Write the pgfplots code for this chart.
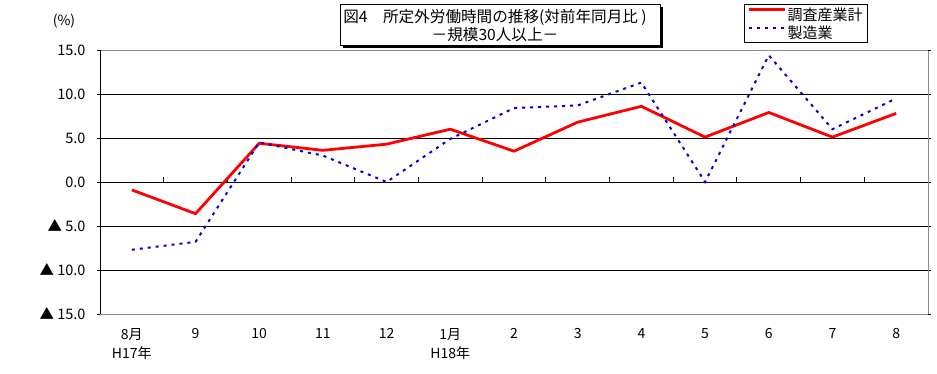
\documentclass[border=0pt]{standalone}
\usepackage{fontspec}
\setmainfont{Noto Sans CJK JP}
\usepackage{pgfplots}
\pgfplotsset{compat=1.18}
\begin{document}
\begin{tikzpicture}[x=1pt,y=1pt]
\useasboundingbox (0pt,0pt) rectangle (937pt,374pt);
\begin{axis}[
 at={(100pt,60pt)}, anchor=south west,
 width=828pt, height=264pt, scale only axis,
 xmin=-0.5, xmax=12.5, ymin=-15, ymax=15,
 xtick={0,...,12},
 xticklabels={{8月\\H17年},9,10,11,12,{1月\\H18年},2,3,4,5,6,7,8},
 x tick label style={align=center, font=\fontsize{14}{19}\selectfont, yshift=-8pt},
 ytick={-10,-5,...,10},
 yticklabels={▲ 10.0,▲ 5.0,0.0,5.0,10.0},
 extra y ticks={-15,15},
 extra y tick labels={▲ 15.0,15.0},
 extra y tick style={grid=none},
 y tick label style={font=\fontsize{14.5}{16}\selectfont, xshift=-8pt},
 ymajorgrids, grid style={black, line width=0.9pt},
 axis line style={draw=gray!90, line width=0.9pt},
 x tick style={draw=none},
 y tick style={black, line width=0.9pt},
 tick align=outside, major tick length=3pt,
 legend style={at={(0.7778,1)}, anchor=north west, yshift=46pt, draw=black, line width=0.8pt,
   font=\fontsize{15}{15}\selectfont, inner xsep=3pt, inner ysep=1.5pt, row sep=1pt,
   nodes={inner sep=1.5pt}},
 legend cell align=left,
 legend image code/.code={\draw[#1] (0pt,4.8pt) -- (36pt,4.8pt);},
]
\pgfplotsinvokeforeach{0.5,1.5,...,11.5}{\draw[black, line width=0.9pt] (axis cs:#1,0) -- ++(0pt,5pt);}
\draw[black, line width=0.9pt] (rel axis cs:0,0) -- (rel axis cs:0,1);
\addplot[red, line width=2.8pt, line join=round] coordinates {(0,-0.9)(1,-3.6)(2,4.4)(3,3.6)(4,4.3)(5,6.0)(6,3.5)(7,6.8)(8,8.6)(9,5.1)(10,7.9)(11,5.1)(12,7.8)};
\addlegendentry{調査産業計}
\addplot[blue!85!black, line width=2pt, dash pattern=on 3pt off 5pt] coordinates {(0,-7.7)(1,-6.8)(2,4.5)(3,3.0)(4,0.0)(5,4.9)(6,8.4)(7,8.7)(8,11.3)(9,0.0)(10,14.4)(11,6.0)(12,9.5)};
\addlegendentry{製造業}
\end{axis}
\fill[black] (343pt,326pt) rectangle (663pt,367pt);
\draw[fill=white, line width=0.8pt] (340pt,329pt) rectangle (660pt,370pt);
\node[font=\fontsize{15.6}{16}\selectfont] at (495pt,357pt) {図4　所定外労働時間の推移(対前年同月比 )};
\node[font=\fontsize{15.6}{16}\selectfont] at (495pt,339pt) {－規模30人以上－};
\node[font=\fontsize{14}{14}\selectfont] at (64pt,353pt) {(\%)};
\end{tikzpicture}
\end{document}
